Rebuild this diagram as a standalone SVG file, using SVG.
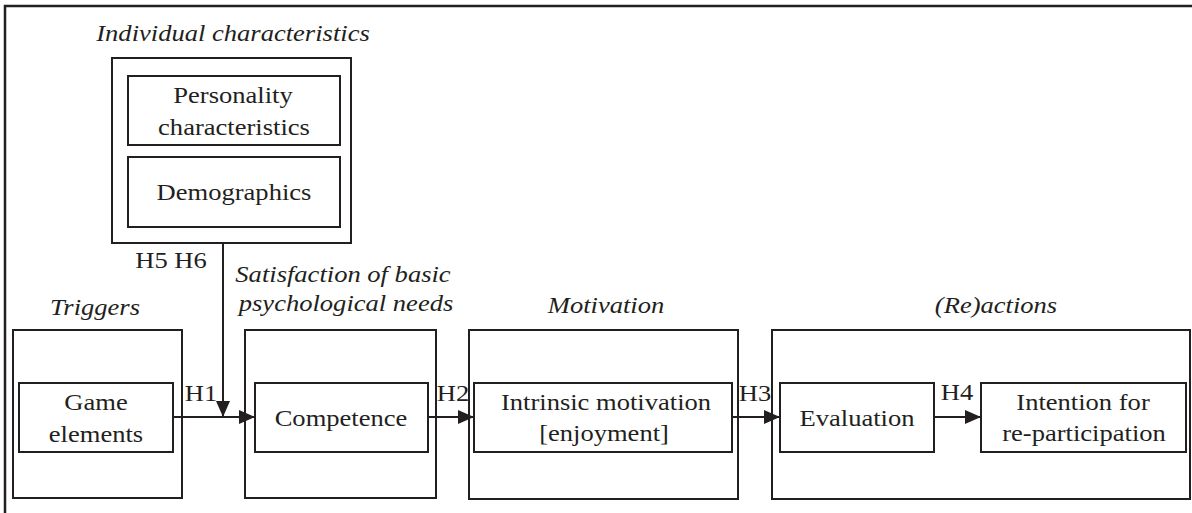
<svg xmlns="http://www.w3.org/2000/svg" width="1192" height="513" viewBox="0 0 1192 513">
<style>
.box{fill:none;stroke:#231f20;stroke-width:2}
.frame{fill:none;stroke:#231f20;stroke-width:2.5}
.t{font-family:"Liberation Serif","Times New Roman",serif;font-size:23px;fill:#231f20;text-anchor:middle}
.i{font-style:italic}
.c{fill:none;stroke:#231f20;stroke-width:2}
</style>
<defs>
<marker id="ah" viewBox="0 0 16 14" refX="16" refY="7" markerWidth="16" markerHeight="14" markerUnits="userSpaceOnUse" orient="auto">
<path d="M0,0 L16,7 L0,14 Z" fill="#231f20"/>
</marker>
</defs>
<rect width="1192" height="513" fill="#fff"/>
<path class="frame" d="M5,513 V6 H1192"/>

<g id="individual">
<text class="t i" transform="translate(233,41) scale(1.155,1)">Individual characteristics</text>
<rect class="box" x="112" y="58" width="239" height="185"/>
</g>
<g id="personality">
<rect class="box" x="128" y="76" width="212" height="69"/>
<text class="t" transform="translate(233,103) scale(1.155,1)">Personality</text>
<text class="t" transform="translate(234,135) scale(1.155,1)">characteristics</text>
</g>
<g id="demographics">
<rect class="box" x="128" y="157" width="212" height="70"/>
<text class="t" transform="translate(234,200) scale(1.155,1)">Demographics</text>
</g>

<g id="triggers">
<text class="t i" transform="translate(95,315) scale(1.155,1)">Triggers</text>
<rect class="box" x="13" y="330" width="169" height="168"/>
</g>
<g id="game-elements">
<rect class="box" x="19" y="383" width="154" height="69"/>
<text class="t" transform="translate(96,410) scale(1.155,1)">Game</text>
<text class="t" transform="translate(96,442) scale(1.155,1)">elements</text>
</g>

<g id="needs">
<text class="t i" transform="translate(343,282) scale(1.155,1)">Satisfaction of basic</text>
<text class="t i" transform="translate(346,311) scale(1.155,1)">psychological needs</text>
<rect class="box" x="245" y="330" width="191" height="168"/>
</g>
<g id="competence">
<rect class="box" x="255" y="383" width="173" height="69"/>
<text class="t" transform="translate(341,426) scale(1.155,1)">Competence</text>
</g>

<g id="motivation">
<text class="t i" transform="translate(606,313) scale(1.155,1)">Motivation</text>
<rect class="box" x="469" y="330" width="269" height="169"/>
</g>
<g id="intrinsic">
<rect class="box" x="474" y="383" width="258" height="69"/>
<text class="t" transform="translate(606,410) scale(1.155,1)">Intrinsic motivation</text>
<text class="t" transform="translate(604,441) scale(1.155,1)">[enjoyment]</text>
</g>

<g id="reactions">
<text class="t i" transform="translate(996,313) scale(1.155,1)">(Re)actions</text>
<rect class="box" x="772" y="330" width="418" height="169"/>
</g>
<g id="evaluation">
<rect class="box" x="780" y="383" width="154" height="69"/>
<text class="t" transform="translate(857,426) scale(1.155,1)">Evaluation</text>
</g>
<g id="intention">
<rect class="box" x="981" y="383" width="205" height="69"/>
<text class="t" transform="translate(1083,410) scale(1.155,1)">Intention for</text>
<text class="t" transform="translate(1084,441) scale(1.155,1)">re-participation</text>
</g>

<g id="connectors">
<line class="c" x1="223" y1="243" x2="223" y2="417" marker-end="url(#ah)"/>
<line class="c" x1="173" y1="417" x2="255" y2="417" marker-end="url(#ah)"/>
<line class="c" x1="428" y1="417" x2="474" y2="417" marker-end="url(#ah)"/>
<line class="c" x1="732" y1="417" x2="780" y2="417" marker-end="url(#ah)"/>
<line class="c" x1="934" y1="417" x2="981" y2="417" marker-end="url(#ah)"/>
<text class="t" transform="translate(171,268) scale(1.155,1)">H5 H6</text>
<text class="t" transform="translate(201,401) scale(1.155,1)">H1</text>
<text class="t" transform="translate(453,401) scale(1.155,1)">H2</text>
<text class="t" transform="translate(755,401) scale(1.155,1)">H3</text>
<text class="t" transform="translate(957,400) scale(1.155,1)">H4</text>
</g>
</svg>
